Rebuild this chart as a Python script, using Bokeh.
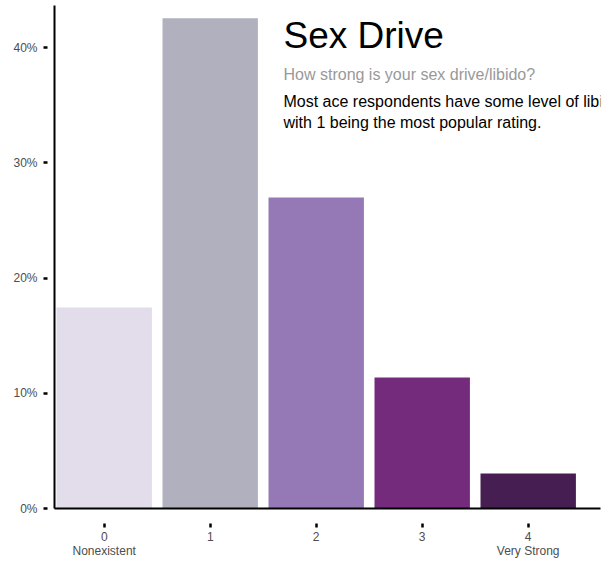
from bokeh.plotting import figure
from bokeh.models import Range1d, FixedTicker, NumeralTickFormatter, Label, ColumnDataSource
from bokeh.embed import file_html
from bokeh.resources import INLINE

ratings = [0, 1, 2, 3, 4]
shares = [0.1744, 0.4254, 0.2698, 0.1137, 0.0304]
colors = ["#E3DCEA", "#B1B0BF", "#9479B6", "#742B7C", "#461E52"]
end_labels = {0: "Nonexistent", 4: "Very Strong"}
y_ticks = [0, 0.1, 0.2, 0.3, 0.4]

title = "Sex Drive"
subtitle = "How strong is your sex drive/libido?"
desc1 = "Most ace respondents have some level of libido,"
desc2 = "with 1 being the most popular rating."

FONT = "Liberation Sans"
W, H = 601, 560
LEFT, TOP, BOTTOM, RIGHT = 54, 5, 508, 600
PX_PER_UNIT_Y = 1152.5
YTOP = (BOTTOM - TOP) / PX_PER_UNIT_Y
X0, X1 = -0.469, 4.682

p = figure(width=W, height=H, output_backend="svg", toolbar_location=None,
           x_range=Range1d(X0, X1), y_range=Range1d(0, YTOP),
           min_border_left=LEFT, min_border_right=W - RIGHT, min_border_top=TOP,
           min_border_bottom=H - BOTTOM)
p.outline_line_color = None
p.xgrid.visible = False
p.ygrid.visible = False
p.background_fill_color = "white"
p.border_fill_color = "white"

src = ColumnDataSource(dict(x=ratings, top=shares, color=colors))
p.vbar(x="x", top="top", width=0.9, bottom=0, fill_color="color", line_color=None, source=src)

xa = p.xaxis[0]
xa.ticker = FixedTicker(ticks=ratings)
xa.major_label_overrides = {k: f"{k}\n{v}" for k, v in end_labels.items()}
xa.axis_line_color = "black"
xa.axis_line_width = 2
xa.major_tick_in = -15
xa.major_tick_out = 19
xa.major_tick_line_width = 2.5
xa.major_tick_line_color = "black"
xa.minor_tick_line_color = None
xa.major_label_standoff = 2
xa.major_label_text_font = FONT
xa.major_label_text_font_size = "12px"
xa.major_label_text_color = "#4d4d4d"
xa.major_label_text_line_height = 1.0

ya = p.yaxis[0]
ya.ticker = FixedTicker(ticks=y_ticks)
ya.formatter = NumeralTickFormatter(format="0%")
ya.axis_line_color = "black"
ya.axis_line_width = 2
ya.major_tick_in = -7
ya.major_tick_out = 11
ya.major_tick_line_width = 2.5
ya.major_tick_line_color = "black"
ya.minor_tick_line_color = None
ya.major_label_standoff = 6
ya.major_label_text_font = FONT
ya.major_label_text_font_size = "12px"
ya.major_label_text_color = "#4d4d4d"

def yv(sy):
    return (BOTTOM - sy) / PX_PER_UNIT_Y

def xv(sx):
    return X0 + (sx - LEFT) / (RIGHT - LEFT) * (X1 - X0)

p.add_layout(Label(x=xv(283), y=yv(34.5), text=title, text_font=FONT, text_font_size="37px",
                   text_color="black", text_baseline="middle", text_align="left"))
p.add_layout(Label(x=xv(283), y=yv(74), text=subtitle, text_font=FONT, text_font_size="16px",
                   text_color="#999999", text_baseline="middle", text_align="left"))
p.add_layout(Label(x=xv(283), y=yv(101), text=desc1, text_font=FONT, text_font_size="16px",
                   text_color="black", text_baseline="middle", text_align="left"))
p.add_layout(Label(x=xv(283), y=yv(122), text=desc2, text_font=FONT, text_font_size="16px",
                   text_color="black", text_baseline="middle", text_align="left"))

open("out.html", "w").write(file_html(p, INLINE))
